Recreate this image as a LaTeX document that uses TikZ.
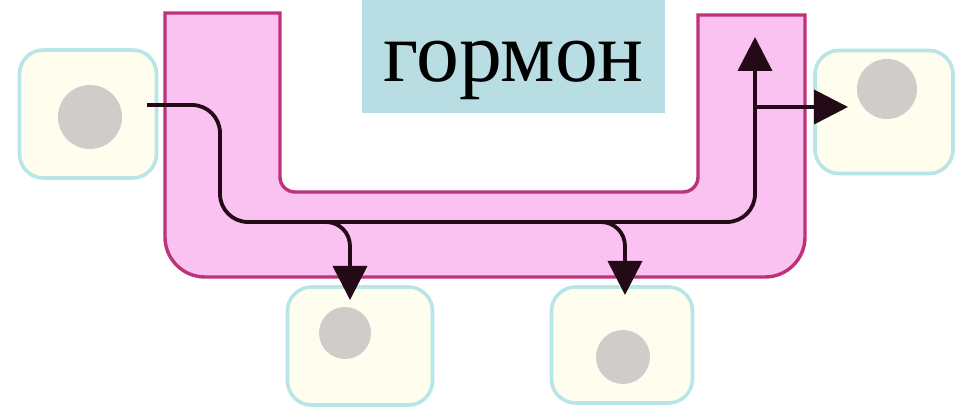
\documentclass[tikz,border=0pt]{standalone}
\usepackage{fontspec}
\setmainfont{Liberation Serif}
\usetikzlibrary{arrows.meta}
\definecolor{vesselfill}{RGB}{249,194,240}
\definecolor{vesselline}{RGB}{190,50,122}
\definecolor{cellline}{RGB}{184,230,232}
\definecolor{cellfill}{RGB}{255,254,238}
\definecolor{nucleus}{RGB}{208,204,202}
\definecolor{labelfill}{RGB}{184,222,227}
\definecolor{flowline}{RGB}{36,10,22}
\begin{document}
\begin{tikzpicture}[x=0.25mm,y=0.25mm,
  cell/.style={shape=rectangle,rounded corners=6mm,draw=cellline,line width=0.9mm,fill=cellfill},
  nucl/.style={shape=circle,fill=nucleus,inner sep=0pt},
  flow/.style={draw=flowline,line width=0.95mm,-{Triangle[length=8.5mm,width=8.5mm]}}]
 \useasboundingbox[fill=white] (0,0) rectangle (961,418);
 \node (cell 1) at (88,304) [cell,minimum width=34.25mm,minimum height=32mm] {};
 \node (cell 2) at (360,72) [cell,minimum width=36.25mm,minimum height=29.5mm] {};
 \node (cell 3) at (622,73) [cell,minimum width=35.25mm,minimum height=29mm] {};
 \node (cell 4) at (884,306) [cell,minimum width=34.5mm,minimum height=30.75mm] {};
 \node (nucl 1) at (90,301) [nucl,minimum size=16mm] {};
 \node (nucl 2) at (345,85) [nucl,minimum size=13mm] {};
 \node (nucl 3) at (623,61) [nucl,minimum size=13.5mm] {};
 \node (nucl 4) at (887,329) [nucl,minimum size=15mm] {};
 \draw[draw=vesselline,fill=vesselfill,line width=0.85mm] (165,405) -- (165,181)
   arc[start angle=180,end angle=270,radius=40] -- (765,141)
   arc[start angle=270,end angle=360,radius=40] -- (805,403) -- (698,403) -- (698,241)
   arc[start angle=0,end angle=-90,radius=15] -- (295,226)
   arc[start angle=270,end angle=180,radius=15] -- (280,405) -- cycle;
 \node (label) at (513.5,361.5) [fill=labelfill,minimum width=75.75mm,text height=20.5mm,text depth=7.75mm,inner sep=0pt,font=\fontsize{61}{61}\selectfont] {гормон};
 \coordinate (src) at (147,313);
 \coordinate (bend) at (220,196);
 \coordinate (tip up) at (755,381);
 \coordinate (fork 1) at (320,196);
 \coordinate (tip 1) at (350,118);
 \coordinate (fork 2) at (595,196);
 \coordinate (tip 2) at (625,123);
 \coordinate (fork 3) at (757,311);
 \coordinate (tip 3) at (848,311);
 \draw[flow,rounded corners=7mm] (src) -| (bend) -| (tip up);
 \draw[flow,rounded corners=6mm] (fork 1) -| (tip 1);
 \draw[flow,rounded corners=6mm] (fork 2) -| (tip 2);
 \draw[flow] (fork 3) -- (tip 3);
\end{tikzpicture}
\end{document}
